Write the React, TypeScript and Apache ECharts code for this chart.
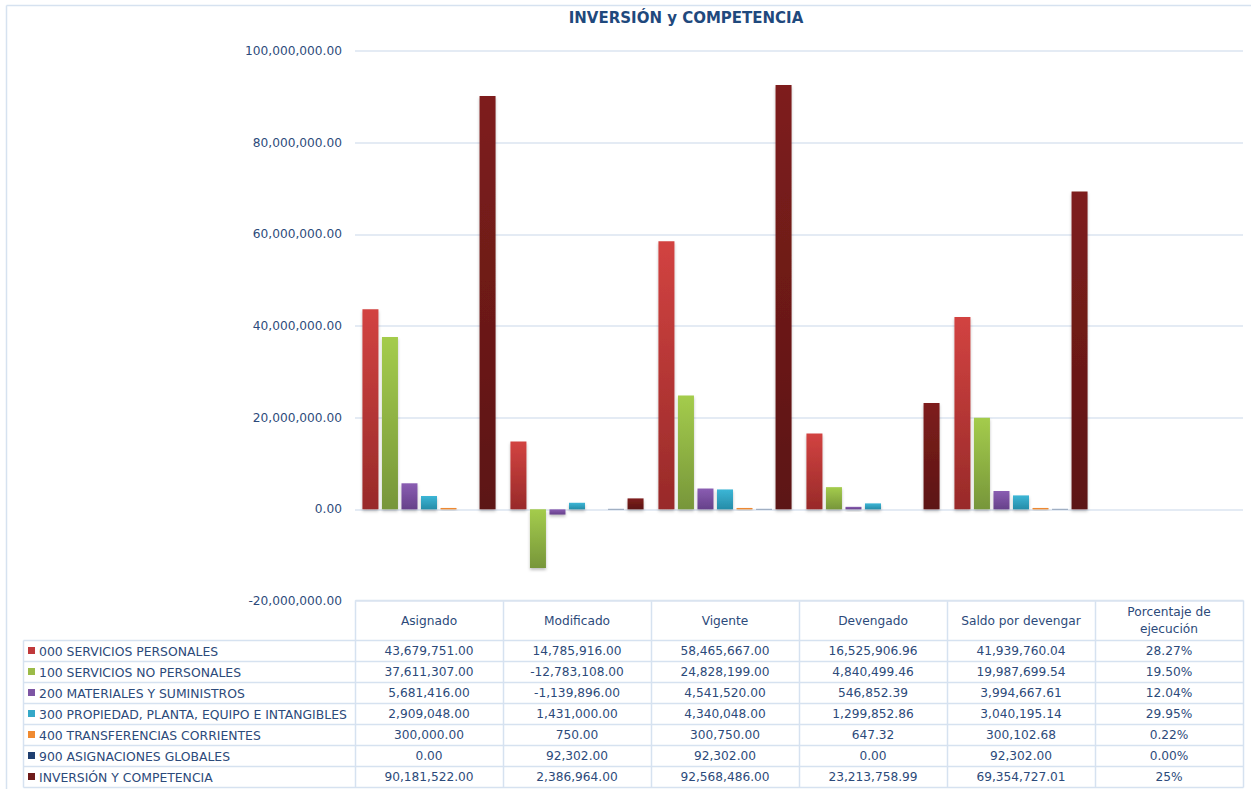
import React, { useEffect, useRef } from "react";
import * as echarts from "echarts";

const title = "INVERSIÓN y COMPETENCIA";
const categories = ["Asignado", "Modificado", "Vigente", "Devengado", "Saldo por devengar", "Porcentaje de ejecución"];
const headerLabels = ["Asignado", "Modificado", "Vigente", "Devengado", "Saldo por devengar", "Porcentaje de\nejecución"];
const seriesNames = [
  "000 SERVICIOS PERSONALES",
  "100 SERVICIOS NO PERSONALES",
  "200 MATERIALES Y SUMINISTROS",
  "300 PROPIEDAD, PLANTA, EQUIPO E INTANGIBLES",
  "400 TRANSFERENCIAS CORRIENTES",
  "900 ASIGNACIONES GLOBALES",
  "INVERSIÓN Y COMPETENCIA",
];
const s000 = [43679751.0, 14785916.0, 58465667.0, 16525906.96, 41939760.04, 0.2827];
const s100 = [37611307.0, -12783108.0, 24828199.0, 4840499.46, 19987699.54, 0.195];
const s200 = [5681416.0, -1139896.0, 4541520.0, 546852.39, 3994667.61, 0.1204];
const s300 = [2909048.0, 1431000.0, 4340048.0, 1299852.86, 3040195.14, 0.2995];
const s400 = [300000.0, 750.0, 300750.0, 647.32, 300102.68, 0.0022];
const s900 = [0.0, 92302.0, 92302.0, 0.0, 92302.0, 0.0];
const sInv = [90181522.0, 2386964.0, 92568486.0, 23213758.99, 69354727.01, 0.25];
const pctLabels = ["28.27%", "19.50%", "12.04%", "29.95%", "0.22%", "0.00%", "25%"];
const seriesData = [s000, s100, s200, s300, s400, s900, sInv];
const yMin = -20000000;
const yMax = 100000000;
const yStep = 20000000;

const topColors = ["#d24341", "#a4cc4c", "#8a5db2", "#3cb6d6", "#f7923a", "#234a80", "#7e1e1c"];
const bottomColors = ["#982a29", "#77963a", "#66418a", "#268ca8", "#e07a22", "#1a3a66", "#5c1514"];
const markerColors = ["#c0393b", "#9bbb48", "#7d55a4", "#34a8c8", "#f08a30", "#1f3f70", "#6e1b1a"];

const TXT = "#2c4a7a";
const LINE = "#d6e2f0";
const FONT = "DejaVu Sans";

const fmt = (v: number) =>
  v.toLocaleString("en-US", { minimumFractionDigits: 2, maximumFractionDigits: 2 });

export default function App() {
  const ref = useRef<HTMLDivElement>(null);
  useEffect(() => {
    if (!ref.current) return;
    const chart = echarts.init(ref.current, null, { renderer: "svg" });

    const gridLeft = 355;
    const gridRight = 1243;
    const colW = (gridRight - gridLeft) / categories.length;
    const headerTop = 600.5;
    const rowTop = 640.5;
    const rowH = 21;
    const legendLeft = 23.5;
    const nRows = seriesNames.length;
    const tableBottom = rowTop + rowH * nRows;

    const g: any[] = [];
    g.push({ type: "line", shape: { x1: 6.5, y1: 5.5, x2: 1251, y2: 5.5 }, style: { stroke: LINE, lineWidth: 1.5 } });
    g.push({ type: "line", shape: { x1: 6.5, y1: 5.5, x2: 6.5, y2: 789 }, style: { stroke: LINE, lineWidth: 1.5 } });
    g.push({ type: "line", shape: { x1: gridLeft + 0.5, y1: headerTop, x2: gridRight + 0.5, y2: headerTop }, style: { stroke: LINE, lineWidth: 1.5 } });
    for (let i = 0; i <= nRows; i++) {
      const y = rowTop + i * rowH;
      g.push({ type: "line", shape: { x1: legendLeft, y1: y, x2: gridRight + 0.5, y2: y }, style: { stroke: LINE, lineWidth: 1.5 } });
    }
    g.push({ type: "line", shape: { x1: legendLeft, y1: rowTop, x2: legendLeft, y2: tableBottom }, style: { stroke: LINE, lineWidth: 1.5 } });
    for (let j = 0; j <= categories.length; j++) {
      const x = Math.round(gridLeft + j * colW) + 0.5;
      g.push({ type: "line", shape: { x1: x, y1: headerTop, x2: x, y2: tableBottom }, style: { stroke: LINE, lineWidth: 1.5 } });
    }
    headerLabels.forEach((h, j) => {
      g.push({
        type: "text",
        x: gridLeft + (j + 0.5) * colW,
        y: (headerTop + rowTop) / 2,
        style: { text: h, fill: TXT, font: `12.2px '${FONT}'`, align: "center", verticalAlign: "middle", lineHeight: 17 },
      });
    });
    seriesNames.forEach((name, i) => {
      const cy = rowTop + i * rowH + rowH / 2;
      g.push({ type: "rect", shape: { x: 28, y: cy - 4, width: 7, height: 7 }, style: { fill: markerColors[i] } });
      g.push({
        type: "text",
        x: 39,
        y: cy,
        style: { text: name, fill: TXT, font: `12.4px '${FONT}'`, align: "left", verticalAlign: "middle" },
      });
      seriesData[i].forEach((v, j) => {
        const t = j === categories.length - 1 ? pctLabels[i] : fmt(v);
        g.push({
          type: "text",
          x: gridLeft + (j + 0.5) * colW,
          y: cy,
          style: { text: t, fill: TXT, font: `12.2px '${FONT}'`, align: "center", verticalAlign: "middle" },
        });
      });
    });
    g.push({
      type: "text",
      x: 686,
      y: 18,
      style: { text: title, fill: "#1f497d", font: `bold 15px '${FONT}'`, align: "center", verticalAlign: "middle" },
    });

    chart.setOption({
      animation: false,
      grid: { left: gridLeft, right: 1251 - gridRight, top: 51, bottom: 188 },
      xAxis: {
        type: "category",
        data: categories,
        axisLabel: { show: false },
        axisTick: { show: false },
        axisLine: { show: false },
        splitLine: { show: false },
      },
      yAxis: {
        type: "value",
        min: yMin,
        max: yMax,
        interval: yStep,
        axisLabel: { formatter: (v: number) => fmt(v), color: TXT, fontFamily: FONT, fontSize: 12.2, margin: 13 },
        axisLine: { show: false },
        axisTick: { show: false },
        splitLine: { lineStyle: { color: "#dbe5f1", width: 1.5 } },
      },
      series: seriesNames.map((name, i) => ({
        type: "bar",
        name,
        data: seriesData[i],
        barWidth: 16,
        barGap: "22%",
        itemStyle: {
          color: {
            type: "linear",
            x: 0,
            y: 0,
            x2: 0,
            y2: 1,
            colorStops: [
              { offset: 0, color: topColors[i] },
              { offset: 1, color: bottomColors[i] },
            ],
          },
          shadowColor: "rgba(0,0,0,0.25)",
          shadowBlur: 3,
          shadowOffsetY: 2,
        },
      })),
      graphic: g,
    });
    return () => chart.dispose();
  }, []);
  return <div ref={ref} style={{ position: "absolute", left: 0, top: 0, width: 1251, height: 789, background: "#fff" }} />;
}
